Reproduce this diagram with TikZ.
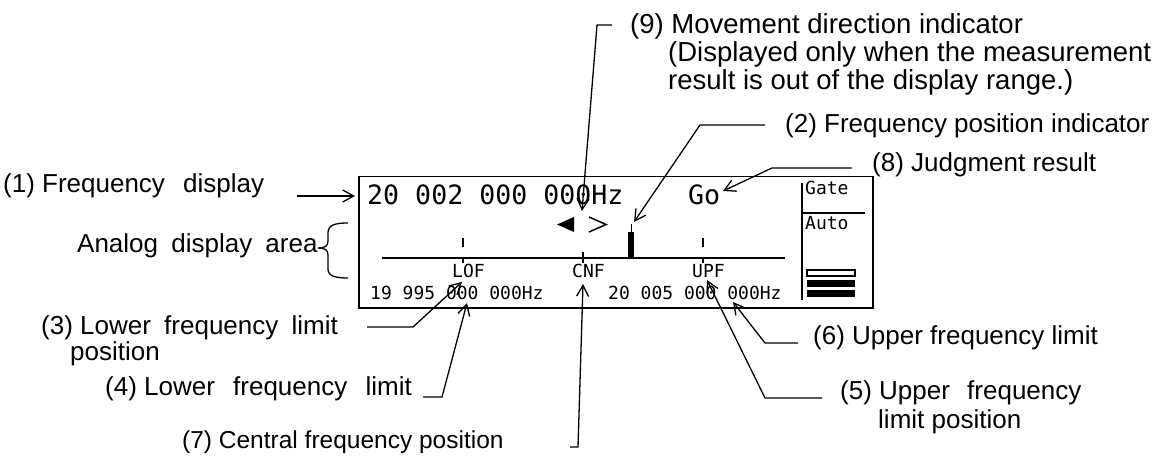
\documentclass[tikz,border=0pt]{standalone}
\usepackage{fontspec}
\setmainfont{Liberation Sans}
\newfontfamily\lcdfont{DejaVu Sans Mono}
\usetikzlibrary{arrows.meta}
\begin{document}
\begin{tikzpicture}[x=1pt,y=-1pt,
  lbl/.style={inner sep=0pt,anchor=west,font=\fontsize{26}{30}\selectfont},
  lblbig/.style={lbl,font=\fontsize{27.5}{30}\selectfont},
  lead/.style={line width=1.3pt,-{Straight Barb[length=11pt,width=12pt]}},
  lcdbig/.style={inner sep=0pt,anchor=base west,font=\lcdfont\fontsize{26.6}{30}\selectfont},
  lcdsmall/.style={inner sep=0pt,anchor=base west,font=\lcdfont\fontsize{18}{20}\selectfont},
  lcdline/.style={line width=1.5pt},
  tick/.style={line width=1.2pt}]
\useasboundingbox (0,0) rectangle (1168,457);
% LCD frame
\node[draw,line width=1.5pt,minimum width=514pt,minimum height=131pt,anchor=north west,inner sep=0pt] (lcd) at (358,176) {};
% LCD texts
\node[lcdbig] (freq) at (367,205) {20 002 000 000Hz};
\node[lcdbig] (go) at (688,205) {Go};
\node[lcdsmall] (lof) at (452,277) {LOF};
\node[lcdsmall] (cnf) at (572,277) {CNF};
\node[lcdsmall] (upf) at (692,277) {UPF};
\node[lcdsmall] (lowf) at (370,300) {19 995 000 000Hz};
\node[lcdsmall] (upfr) at (608,300) {20 005 000 000Hz};
\node[lcdsmall] (gate) at (805,195) {Gate};
\node[lcdsmall] (auto) at (805,230) {Auto};
% movement direction indicator
\fill (574,217) -- (557,224.5) -- (574,232) -- cycle;
\draw[line width=1.5pt] (589,217) -- (606,224.5) -- (589,232);
% frequency position indicator
\fill (628,232) rectangle (634,258);
\draw[line width=1pt] (631,224) -- (631,232);
% analog axis and ticks
\draw[lcdline] (382,258) -- (785,258);
\draw[tick] (463,238) -- (463,247);
\draw[tick] (703,238) -- (703,247);
\draw[tick] (583,252) -- (583,263);
\draw[tick] (463,258) -- (463,263);
\draw[tick] (703,258) -- (703,263);
% right panel
\draw[lcdline] (802,183) -- (802,300);
\draw[lcdline] (802,213) -- (865,213);
\draw[line width=1.3pt,fill=white] (807,270) rectangle (855,276);
\fill (807,280) rectangle (855,287);
\fill (807,290) rectangle (855,297);
% brace
\draw[line width=1.3pt] (348,223) .. controls (335,223) and (328,225) .. (328,233) -- (328,241)
  .. controls (328,246) and (325,248) .. (318,248)
  .. controls (325,248) and (328,250) .. (328,255) -- (328,269)
  .. controls (328,276) and (335,278) .. (348,278);
% labels
\node[lbl] (l1) at (3,186) {(1) Frequency\hspace{11pt} display};
\node[lbl] (lan) at (77,246) {Analog\hspace{6pt} display\hspace{6pt} area};
\node[lblbig] (l9a) at (630,26) {(9) Movement direction indicator};
\node[lblbig] (l9b) at (668,54) {(Displayed only when the measurement};
\node[lblbig] (l9c) at (668,82) {result is out of the display range.)};
\node[lbl] (l2) at (785,126) {(2) Frequency position indicator};
\node[lbl] (l8) at (872,165) {(8) Judgment result};
\node[lbl] (l3a) at (41,328) {(3) Lower\hspace{6pt} frequency\hspace{6pt} limit};
\node[lbl] (l3b) at (70,354) {position};
\node[lbl] (l4) at (105,389) {(4) Lower\hspace{11pt} frequency\hspace{11pt} limit};
\node[lbl,font=\fontsize{24.5}{28}\selectfont] (l7) at (182,442) {(7) Central frequency position};
\node[lbl] (l6) at (813,338) {(6) Upper frequency limit};
\node[lbl] (l5a) at (840,393) {(5) Upper\hspace{10pt} frequency};
\node[lbl] (l5b) at (878,422) {limit position};
% leader coordinates
\coordinate (s1) at (297,196); \coordinate (t1) at (355,196);
\coordinate (s9) at (612,25); \coordinate (c9) at (597,25); \coordinate (t9) at (582,211);
\coordinate (s2) at (765,125); \coordinate (c2) at (700,125); \coordinate (t2) at (634,222);
\coordinate (s8) at (852,168); \coordinate (c8) at (772,168); \coordinate (t8) at (723,191);
\coordinate (s3) at (367,327); \coordinate (c3) at (413,327); \coordinate (t3) at (462,282);
\coordinate (s4) at (423,397); \coordinate (c4) at (442,397); \coordinate (t4) at (467,303);
\coordinate (s7) at (570,447); \coordinate (c7) at (578,447); \coordinate (t7) at (583,284);
\coordinate (s6) at (798,343); \coordinate (c6) at (765,343); \coordinate (t6) at (733,302);
\coordinate (s5) at (822,398); \coordinate (c5) at (765,398); \coordinate (t5) at (707,280);
% leaders
\draw[lead] (s1) -- (t1);
\draw[lead] (s9) -- (c9) -- (t9);
\draw[lead] (s2) -- (c2) -- (t2);
\draw[lead] (s8) -- (c8) -- (t8);
\draw[lead] (s3) -- (c3) -- (t3);
\draw[lead] (s4) -- (c4) -- (t4);
\draw[lead] (s7) -- (c7) -- (t7);
\draw[lead] (s6) -- (c6) -- (t6);
\draw[lead] (s5) -- (c5) -- (t5);
\end{tikzpicture}
\end{document}
